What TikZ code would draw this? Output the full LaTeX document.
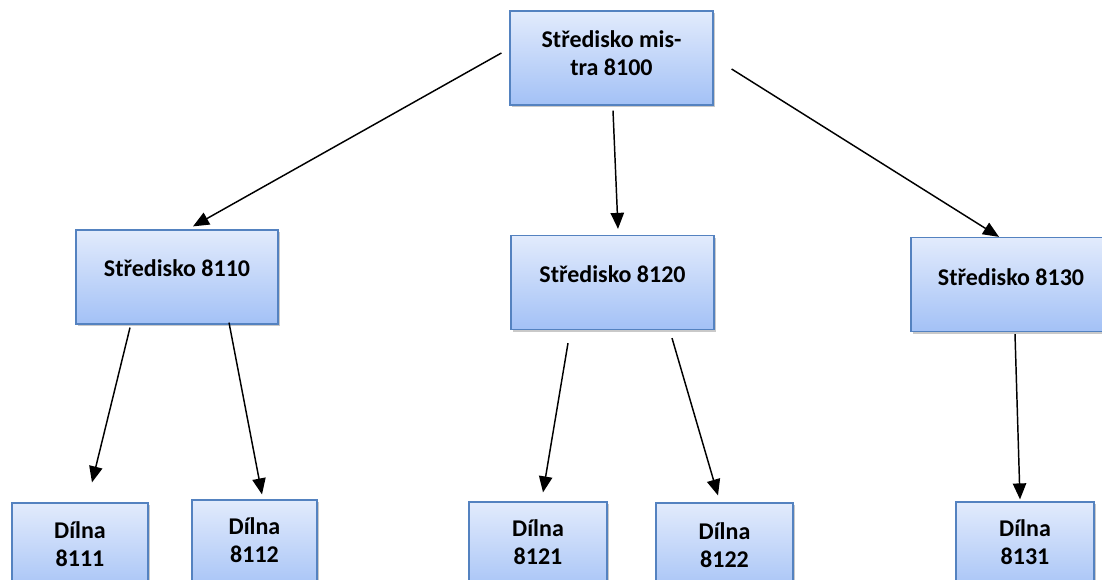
\documentclass[tikz,border=0pt]{standalone}
\usepackage{fontspec}
\setmainfont{Carlito}
\usetikzlibrary{calc,shadows,arrows.meta}
\definecolor{boxtop}{RGB}{226,235,252}
\definecolor{boxbot}{RGB}{163,193,246}
\definecolor{boxline}{RGB}{84,130,192}
\tikzset{
  box/.style={draw=boxline, line width=0.9pt, top color=boxtop, bottom color=boxbot,
    minimum width=#1*0.75pt, minimum height=70.5pt, inner sep=0pt,
    drop shadow={shadow xshift=1.6pt, shadow yshift=-1.6pt, opacity=0.35, fill=black!60}},
  lbl/.style={align=center, inner sep=0pt, font=\bfseries\fontsize{18}{21}\selectfont},
  arr/.style={line width=1.1pt, -{Triangle[length=12pt,width=10pt]}}
}
\begin{document}
\begin{tikzpicture}[x=0.75pt,y=-0.75pt]
\clip (0,0) rectangle (1102,580);
\fill[white] (0,0) rectangle (1102,580);
% boxes
\node[box=203] (top) at (611.5,58) {};
\node[lbl] (topl) at (611.5,53.5) {Středisko mis-\\tra 8100};
\node[box=202] (s1) at (177,277) {};
\node[lbl] (s1l) at (177,268) {Středisko 8110};
\node[box=203] (s2) at (612.5,282.5) {};
\node[lbl] (s2l) at (612.5,274) {Středisko 8120};
\node[box=202] (s3) at (1012,284.5) {};
\node[lbl] (s3l) at (1011,277) {Středisko 8130};
\node[box=136] (d1) at (80,550) {};
\node[lbl] (d1l) at (80,544) {Dílna\\8111};
\node[box=125] (d2) at (254.5,547) {};
\node[lbl] (d2l) at (254.5,540) {Dílna\\8112};
\node[box=138] (d3) at (538,549) {};
\node[lbl] (d3l) at (538,542) {Dílna\\8121};
\node[box=137] (d4) at (724.5,550) {};
\node[lbl] (d4l) at (724.5,545) {Dílna\\8122};
\node[box=138] (d5) at (1025,549) {};
\node[lbl] (d5l) at (1025,542) {Dílna\\8131};
% connectors
\draw[arr] ($(top.west)+(-8,-5)$) -- ($(s1.north)+(16,-3)$);
\draw[arr] ($(top.south)+(1.5,5)$) -- ($(s2.north)+(5.5,-6)$);
\draw[arr] ($(top.east)+(18,11)$) -- ($(s3.north)+(-13,0)$);
\draw[arr] ($(s1.south)+(-47,3)$) -- ($(d1.north)+(12,-20)$);
\draw[arr] ($(s1.south)+(52,-2)$) -- ($(d2.north)+(7.5,-5)$);
\draw[arr] ($(s2.south)+(-44.5,13)$) -- ($(d3.north)+(5,-9)$);
\draw[arr] ($(s2.south)+(59.5,8)$) -- ($(d4.north)+(-6.5,-7)$);
\draw[arr] ($(s3.south)+(3,2)$) -- ($(d5.north)+(-5,-2)$);
\end{tikzpicture}
\end{document}
